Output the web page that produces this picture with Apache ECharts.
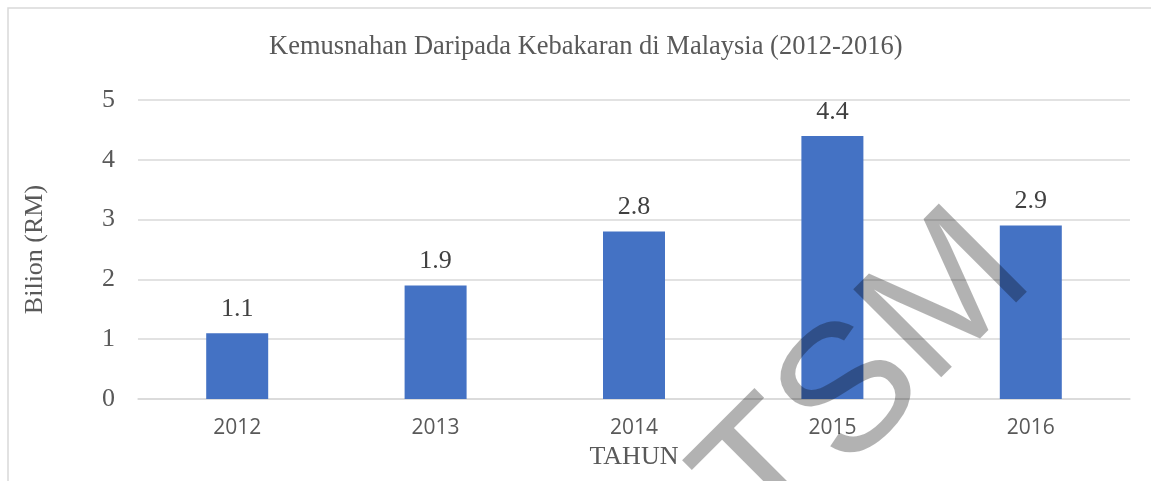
<!DOCTYPE html>
<html>
<head>
<meta charset="utf-8">
<script src="https://cdn.jsdelivr.net/npm/echarts@6/dist/echarts.min.js"></script>
<style>
html, body { margin: 0; padding: 0; background: #fff; }
#chart { width: 1151px; height: 481px; }
</style>
</head>
<body>
<div id="chart"></div>
<script>
// Kemusnahan akibat kebakaran (Bilion RM)
const years = ['2012', '2013', '2014', '2015', '2016']
const losses = [1.1, 1.9, 2.8, 4.4, 2.9]

const serif = '"Liberation Serif", "Times New Roman", serif'
const sans = '"Open Sans", "Liberation Sans", sans-serif'

const chart = echarts.init(document.getElementById('chart'), null, { renderer: 'canvas' })

const option = {
  backgroundColor: '#fff',
  animation: false,
  title: {
    text: 'Kemusnahan Daripada Kebakaran di Malaysia (2012-2016)',
    left: 264,
    top: 29,
    textStyle: {
      fontFamily: serif,
      fontSize: 26.5,
      fontWeight: 'normal',
      color: '#595959'
    }
  },
  grid: {
    left: 138,
    right: 21,
    top: 100,
    bottom: 82
  },
  xAxis: {
    type: 'category',
    data: years,
    name: 'TAHUN',
    nameLocation: 'middle',
    nameGap: 42,
    nameTextStyle: {
      fontFamily: serif,
      fontSize: 26,
      color: '#595959'
    },
    axisTick: { show: false },
    axisLine: {
      lineStyle: { color: '#d9d9d9', width: 1.5 }
    },
    axisLabel: {
      margin: 19,
      fontFamily: sans,
      fontSize: 21,
      color: '#595959'
    }
  },
  yAxis: {
    type: 'value',
    min: 0,
    max: 5,
    interval: 1,
    name: 'Bilion (RM)',
    nameLocation: 'middle',
    nameGap: 90,
    nameTextStyle: {
      fontFamily: serif,
      fontSize: 26,
      color: '#595959'
    },
    axisLine: { show: false },
    axisTick: { show: false },
    axisLabel: {
      margin: 23,
      fontFamily: serif,
      fontSize: 26,
      color: '#595959'
    },
    splitLine: {
      lineStyle: { color: '#d9d9d9', width: 1.5 }
    }
  },
  series: [{
    name: 'Kemusnahan',
    type: 'bar',
    data: losses,
    barWidth: 62,
    itemStyle: { color: '#4472c4' },
    label: {
      show: true,
      position: 'top',
      distance: 11,
      fontFamily: serif,
      fontSize: 26,
      color: '#404040'
    }
  }],
  graphic: [
    {
      // bingkai carta
      type: 'rect',
      shape: { x: 8, y: 8, width: 1300, height: 700 },
      style: { fill: null, stroke: '#d9d9d9', lineWidth: 1.5 },
      silent: true,
      z: -1
    },
    {
      // tera air
      type: 'text',
      x: 867,
      y: 381,
      rotation: Math.PI / 4,
      style: {
        text: 'TSM',
        fontFamily: '"Liberation Sans", Arial, sans-serif',
        fontSize: 181,
        fill: 'rgba(0,0,0,0.3)',
        align: 'center',
        verticalAlign: 'middle'
      },
      silent: true,
      z: 100
    }
  ]
}

chart.setOption(option)
</script>
</body>
</html>
